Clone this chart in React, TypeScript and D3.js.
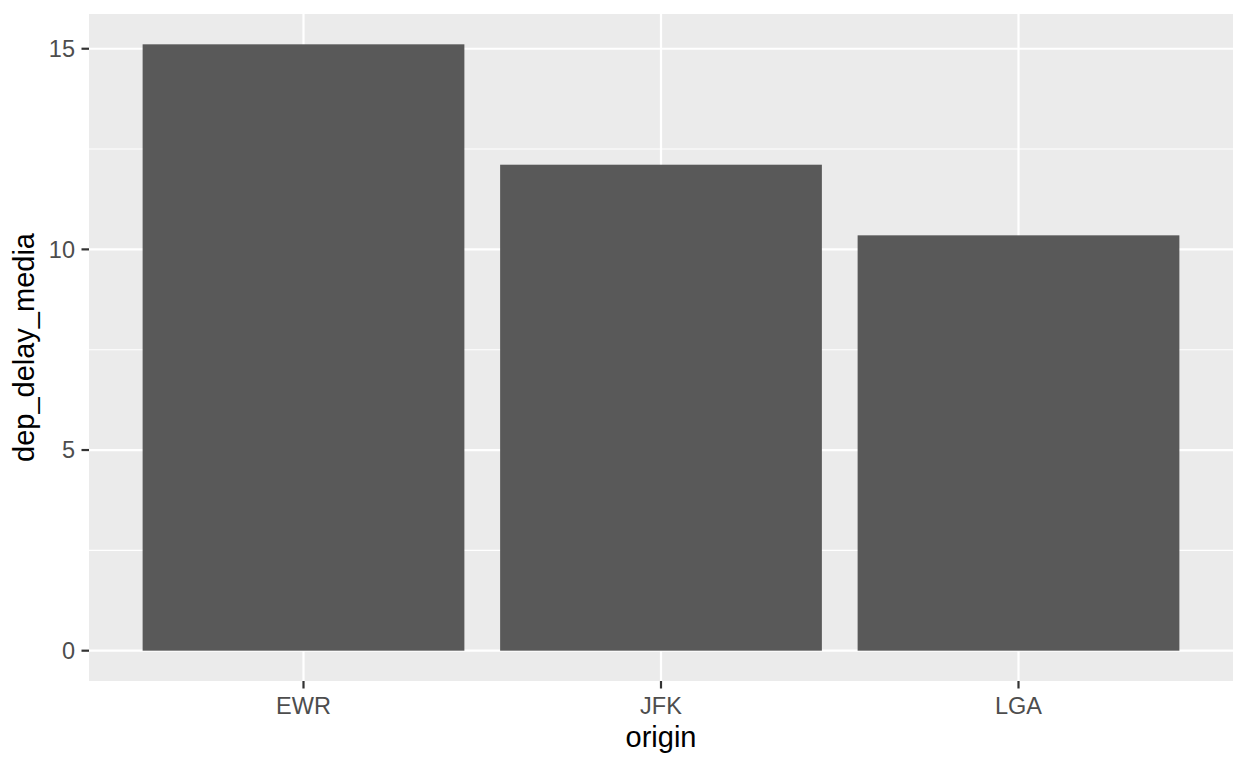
import { useEffect } from 'react';
import * as d3 from 'd3';

// mean departure delay by origin airport
const origins = ['EWR', 'JFK', 'LGA'];
const depDelayMedia = [15.11, 12.11, 10.35];
const yTicks = [0, 5, 10, 15];
const yMinor = [2.5, 7.5, 12.5];

const W = 1248;
const H = 768;
const panel = { left: 89, top: 14, right: 1233, bottom: 681 };
const FONT = '"Liberation Sans", Arial, sans-serif';

export default function App() {
  useEffect(() => {
    document.body.style.margin = '0';
  }, []);

  const maxV = d3.max(depDelayMedia) ?? 1;
  // ggplot default expansion: 5% each side on continuous, 0.6 units on discrete
  const y = d3
    .scaleLinear()
    .domain([-0.05 * maxV, 1.05 * maxV])
    .range([panel.bottom, panel.top]);

  const n = origins.length;
  const unit = (panel.right - panel.left) / (n - 1 + 1.2);
  const x = d3
    .scalePoint<string>()
    .domain(origins)
    .range([panel.left + 0.6 * unit, panel.right - 0.6 * unit]);
  const barW = 0.9 * unit;

  const tickCol = '#333333';
  const labCol = '#4D4D4D';

  return (
    <svg width={W} height={H} style={{ display: 'block', background: '#fff' }}>
      <rect
        x={panel.left}
        y={panel.top}
        width={panel.right - panel.left}
        height={panel.bottom - panel.top}
        fill="#EBEBEB"
      />

      {/* minor gridlines */}
      {yMinor.map((v) => (
        <line
          key={`mn-${v}`}
          x1={panel.left}
          x2={panel.right}
          y1={y(v)}
          y2={y(v)}
          stroke="#fff"
          strokeWidth={1.1}
        />
      ))}

      {/* major gridlines */}
      {yTicks.map((v) => (
        <line
          key={`mj-${v}`}
          x1={panel.left}
          x2={panel.right}
          y1={y(v)}
          y2={y(v)}
          stroke="#fff"
          strokeWidth={2.2}
        />
      ))}
      {origins.map((o) => (
        <line
          key={`vx-${o}`}
          x1={x(o)}
          x2={x(o)}
          y1={panel.top}
          y2={panel.bottom}
          stroke="#fff"
          strokeWidth={2.2}
        />
      ))}

      {/* bars */}
      {origins.map((o, i) => (
        <rect
          key={`bar-${o}`}
          x={(x(o) ?? 0) - barW / 2}
          y={y(depDelayMedia[i])}
          width={barW}
          height={y(0) - y(depDelayMedia[i])}
          fill="#595959"
        />
      ))}

      {/* y axis */}
      {yTicks.map((v) => (
        <g key={`yt-${v}`}>
          <line
            x1={panel.left - 7.5}
            x2={panel.left}
            y1={y(v)}
            y2={y(v)}
            stroke={tickCol}
            strokeWidth={2.2}
          />
          <text
            x={panel.left - 14}
            y={y(v)}
            dy="0.36em"
            textAnchor="end"
            fontSize={23.5}
            fontFamily={FONT}
            fill={labCol}
          >
            {v}
          </text>
        </g>
      ))}

      {/* x axis */}
      {origins.map((o) => (
        <g key={`xt-${o}`}>
          <line
            x1={x(o)}
            x2={x(o)}
            y1={panel.bottom}
            y2={panel.bottom + 7.5}
            stroke={tickCol}
            strokeWidth={2.2}
          />
          <text
            x={x(o)}
            y={714}
            textAnchor="middle"
            fontSize={23.5}
            fontFamily={FONT}
            fill={labCol}
          >
            {o}
          </text>
        </g>
      ))}

      {/* axis titles */}
      <text
        x={(panel.left + panel.right) / 2}
        y={747}
        textAnchor="middle"
        fontSize={29}
        fontFamily={FONT}
        fill="#000"
      >
        origin
      </text>
      <text
        transform={`translate(34, ${(panel.top + panel.bottom) / 2}) rotate(-90)`}
        textAnchor="middle"
        fontSize={29}
        fontFamily={FONT}
        fill="#000"
      >
        dep_delay_media
      </text>
    </svg>
  );
}
